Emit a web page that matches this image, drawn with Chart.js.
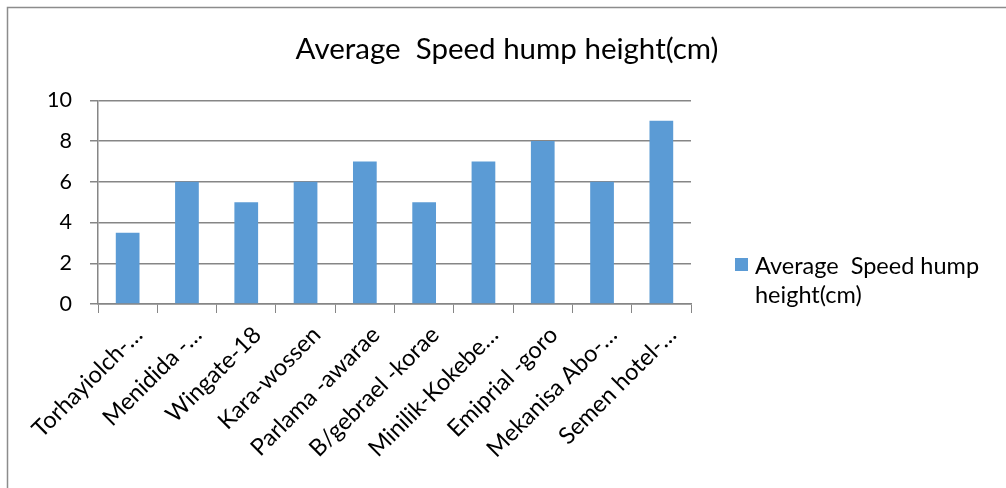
<!DOCTYPE html>
<html>
<head>
<meta charset="utf-8">
<script src="https://cdn.jsdelivr.net/npm/chart.js@4/dist/chart.umd.min.js"></script>
<style>
  html, body { margin: 0; padding: 0; background: #fff; }
  #wrap { width: 1006px; height: 488px; position: relative; }
</style>
</head>
<body>
<div id="wrap"><canvas id="humpChart"></canvas></div>
<script>
const seriesName = 'Average  Speed hump height(cm)';
const legendLines = ['Average  Speed hump', 'height(cm)'];
const locations = [
    'Torhayiolch-…', 'Menidida -…', 'Wingate-18', 'Kara-wossen', 'Parlama -awarae',
    'B/gebrael -korae', 'Minilik-Kokebe…', 'Emiprial -goro', 'Mekanisa Abo-…', 'Semen hotel-…'
];
const heights = [3.5, 6, 5, 6, 7, 5, 7, 8, 6, 9];
const yMin = 0;
const yMax = 10;
const yStep = 2;

const FONT = 'Lato, "Open Sans", sans-serif';
const AXIS_GREY = '#868686';
const BAR_BLUE = '#5B9BD5';

// frame around the chart object and the legend at the right
const framePlugin = {
    id: 'frameAndLegend',
    beforeDraw(chart) {
        const ctx = chart.ctx;
        ctx.save();
        ctx.strokeStyle = '#8c8c8c';
        ctx.lineWidth = 1.5;
        ctx.strokeRect(7.5, 7.5, 1200, 800);
        ctx.restore();
    },
    afterDraw(chart) {
        const ctx = chart.ctx;
        const area = chart.chartArea;
        const x = area.right + 44;
        const y = 258;
        ctx.save();
        ctx.fillStyle = BAR_BLUE;
        ctx.fillRect(x, y, 13, 13);
        ctx.fillStyle = '#000';
        ctx.font = '23.5px ' + FONT;
        ctx.textBaseline = 'alphabetic';
        legendLines.forEach((line, i) => {
            ctx.fillText(line, x + 20, y + 16 + i * 29);
        });
        ctx.restore();
    }
};

const chart = new Chart(document.getElementById('humpChart'), {
    type: 'bar',
    data: {
        labels: locations,
        datasets: [{
            label: seriesName,
            data: heights,
            backgroundColor: BAR_BLUE,
            borderWidth: 0,
            categoryPercentage: 1,
            barPercentage: 0.4
        }]
    },
    options: {
        responsive: true,
        maintainAspectRatio: false,
        animation: false,
        devicePixelRatio: 1,
        layout: { padding: { left: 8, right: 0, top: 0, bottom: 0 } },
        plugins: {
            legend: { display: false },
            tooltip: { enabled: false },
            title: {
                display: true,
                text: seriesName,
                color: '#000',
                font: { family: FONT, size: 29.5, weight: 'normal', lineHeight: 1.2 },
                padding: { top: 32, bottom: 33 }
            }
        },
        scales: {
            x: {
                offset: true,
                grid: {
                    offset: true,
                    drawOnChartArea: false,
                    drawTicks: true,
                    tickLength: 9,
                    color: AXIS_GREY
                },
                border: { color: AXIS_GREY, width: 1.5 },
                ticks: {
                    autoSkip: false,
                    minRotation: 45,
                    maxRotation: 45,
                    color: '#000',
                    padding: 8,
                    labelOffset: 11,
                    font: { family: FONT, size: 23.5 }
                },
                afterFit(scale) { scale.height = 184; }
            },
            y: {
                min: yMin,
                max: yMax,
                grid: { color: AXIS_GREY, tickLength: 8, lineWidth: 1.5 },
                border: { color: AXIS_GREY, width: 1.5 },
                ticks: {
                    stepSize: yStep,
                    color: '#000',
                    padding: 18,
                    font: { family: FONT, size: 21.5 }
                },
                afterFit(scale) { scale.width = 90; }
            },
            legendSpace: {
                type: 'linear',
                position: 'right',
                display: true,
                grid: { display: false },
                border: { display: false },
                ticks: { display: false },
                afterFit(scale) { scale.width = 315; }
            }
        }
    },
    plugins: [framePlugin]
});
</script>
</body>
</html>
